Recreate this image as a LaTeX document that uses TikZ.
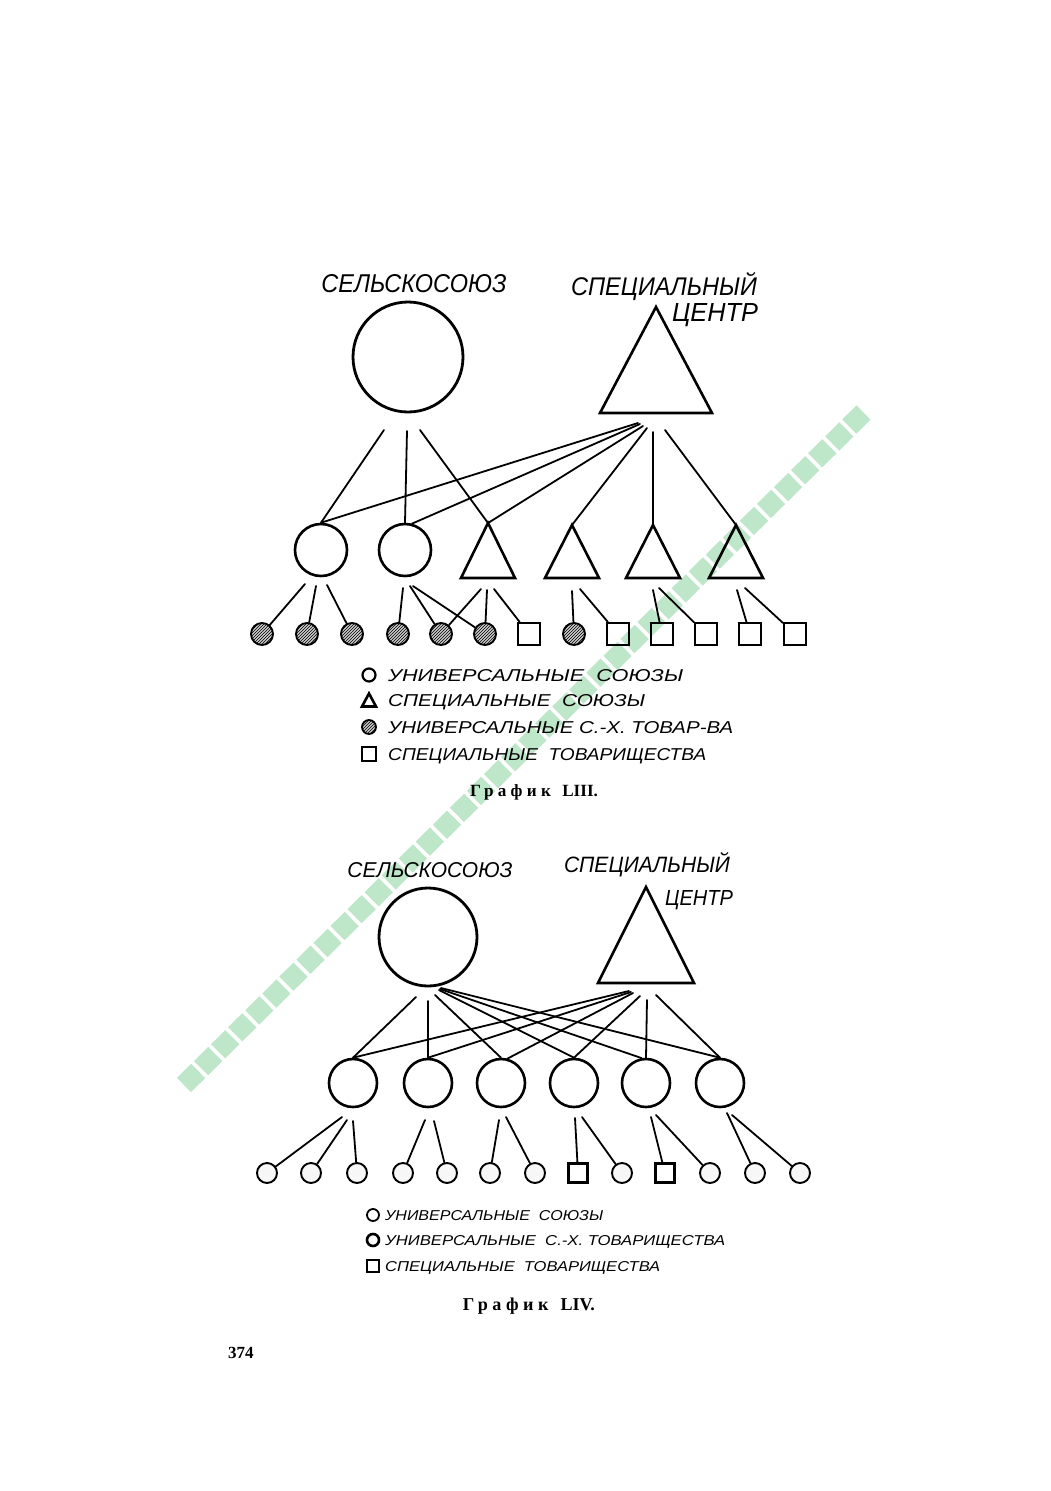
\documentclass[tikz,border=0pt]{standalone}
\usepackage{fontspec}
\usepackage{graphicx}
\usetikzlibrary{patterns}
\newfontfamily\draftfont{Liberation Sans}
\newfontfamily\capfont[LetterSpace=25]{Liberation Serif}
\newfontfamily\numfont{Liberation Serif}
\newcommand\dlab[3]{\resizebox{#1}{#2}{\draftfont\itshape #3}}
\definecolor{wmgreen}{RGB}{190,230,200}
\begin{document}
\begin{tikzpicture}[x=1pt,y=-1pt,
  conn/.style={line width=1.8pt, line cap=round},
  bigc/.style={circle, draw, line width=2.8pt, inner sep=0pt},
  midc/.style={circle, draw, line width=2.6pt, inner sep=0pt},
  tri/.style={inner sep=0pt, outer sep=0pt,
    append after command={\pgfextra{\draw[line width=2.6pt, line join=miter]
      (\tikzlastnode.south west) -- (\tikzlastnode.north) -- (\tikzlastnode.south east) -- cycle;}}},
  hatc/.style={circle, draw, line width=1.9pt, inner sep=0pt, minimum size=22pt,
    preaction={fill=gray!40}, pattern=north east lines},
  sq/.style={rectangle, draw, line width=2.1pt, inner sep=0pt, minimum size=22pt},
  uc/.style={circle, draw, line width=1.9pt, inner sep=0pt, minimum size=20pt, fill=gray!6},
  sq2/.style={rectangle, draw, line width=2.1pt, inner sep=0pt, minimum size=19pt},
  legtxt/.style={anchor=base west, inner sep=0pt},
  caption/.style={anchor=base, inner sep=0pt},
  wm/.style={draw=wmgreen, line width=20pt, dash pattern=on 20pt off 4pt}
]
\useasboundingbox[fill=white] (0,0) rectangle (1051,1491);

% watermark
\coordinate (wmA) at (184,1085);
\coordinate (wmB) at (866,410);
\draw[wm] (wmA) -- (wmB);

% ================= Diagram LIII =================
\node[anchor=base] (L1a) at (414,292) {\dlab{185pt}{18pt}{СЕЛЬСКОСОЮЗ}};
\node[anchor=base] (L1b) at (664,295) {\dlab{186pt}{23pt}{СПЕЦИАЛЬНЫЙ}};
\node[anchor=base] (L1c) at (715,321) {\dlab{86pt}{18pt}{ЦЕНТР}};

\node[bigc, minimum size=110pt] (S1) at (408,357) {};
\node[tri, minimum width=112pt, minimum height=106pt] (C1) at (656,360) {};

\node[midc, minimum size=52pt] (m11) at (321,550) {};
\node[midc, minimum size=52pt] (m12) at (405,550) {};
\node[tri, minimum width=54pt, minimum height=55pt] (m13) at (488,550.5) {};
\node[tri, minimum width=54pt, minimum height=53pt] (m14) at (572,551.5) {};
\node[tri, minimum width=54pt, minimum height=53pt] (m15) at (653,551.5) {};
\node[tri, minimum width=54pt, minimum height=53pt] (m16) at (736,551.5) {};

\node[hatc] (a1) at (262,634) {};
\node[hatc] (a2) at (307,634) {};
\node[hatc] (a3) at (352,634) {};
\node[hatc] (a4) at (398,634) {};
\node[hatc] (a5) at (441,634) {};
\node[hatc] (a6) at (485,634) {};
\node[sq]   (a7) at (529,634) {};
\node[hatc] (a8) at (574,634) {};
\node[sq]   (a9) at (618,634) {};
\node[sq]   (a10) at (662,634) {};
\node[sq]   (a11) at (706,634) {};
\node[sq]   (a12) at (750,634) {};
\node[sq]   (a13) at (795,634) {};

% connectors from S1
\coordinate (s1o1) at (384,430);
\coordinate (s1o2) at (407,431);
\coordinate (s1o3) at (420,430);
\draw[conn] (s1o1) -- (m11.north);
\draw[conn] (s1o2) -- (m12.north);
\draw[conn] (s1o3) -- (m13.north);
% connectors from C1
\coordinate (c1o1) at (638,423);
\coordinate (c1o2) at (640,424);
\coordinate (c1o3) at (643,426);
\coordinate (c1o4) at (647,428);
\coordinate (c1o5) at (653,432);
\coordinate (c1o6) at (665,430);
\draw[conn] (c1o1) -- (m11.north);
\draw[conn] (c1o2) -- (m12.75);
\draw[conn] (c1o3) -- (m13.north);
\draw[conn] (c1o4) -- (m14.north);
\draw[conn] (c1o5) -- (m15.north);
\draw[conn] (c1o6) -- (m16.north);
% connectors to bottom row
\coordinate (m11o1) at (305,584);
\coordinate (m11o2) at (316,586);
\coordinate (m11o3) at (327,585);
\coordinate (m12o1) at (403,588);
\coordinate (m12o2) at (410,586);
\coordinate (m12o3) at (413,586);
\coordinate (m13o1) at (481,589);
\coordinate (m13o2) at (487,590);
\coordinate (m13o3) at (494,589);
\coordinate (m14o1) at (572,591);
\coordinate (m14o2) at (580,589);
\coordinate (m15o1) at (653,590);
\coordinate (m15o2) at (659,588);
\coordinate (m16o1) at (737,590);
\coordinate (m16o2) at (745,588);
\draw[conn] (m11o1) -- (a1);
\draw[conn] (m11o2) -- (a2);
\draw[conn] (m11o3) -- (a3);
\draw[conn] (m12o1) -- (a4);
\draw[conn] (m12o2) -- (a5);
\draw[conn] (m12o3) -- (a6);
\draw[conn] (m13o1) -- (a5);
\draw[conn] (m13o2) -- (a6);
\draw[conn] (m13o3) -- (a7);
\draw[conn] (m14o1) -- (a8);
\draw[conn] (m14o2) -- (a9);
\draw[conn] (m15o1) -- (a10);
\draw[conn] (m15o2) -- (a11);
\draw[conn] (m16o1) -- (a12);
\draw[conn] (m16o2) -- (a13);

% legend LIII
\node[circle, draw, line width=2.2pt, inner sep=0pt, minimum size=13pt] (k1) at (369,675) {};
\node[tri, minimum width=14pt, minimum height=13pt] (k2) at (369,700) {};
\node[circle, draw, line width=1.8pt, inner sep=0pt, minimum size=14pt, preaction={fill=gray!40}, pattern=north east lines] (k3) at (369,727) {};
\node[rectangle, draw, line width=2.2pt, inner sep=0pt, minimum size=14pt] (k4) at (369,754) {};
\node[legtxt] (t1) at (388,681) {\dlab{295pt}{12pt}{УНИВЕРСАЛЬНЫЕ \ СОЮЗЫ}};
\node[legtxt] (t2) at (388,706) {\dlab{257pt}{12pt}{СПЕЦИАЛЬНЫЕ \ СОЮЗЫ}};
\node[legtxt] (t3) at (388,733) {\dlab{345pt}{12pt}{УНИВЕРСАЛЬНЫЕ С.-Х. ТОВАР-ВА}};
\node[legtxt] (t4) at (388,760) {\dlab{318pt}{12pt}{СПЕЦИАЛЬНЫЕ \ ТОВАРИЩЕСТВА}};
\node[caption] (cap1) at (534,796) {\resizebox{128pt}{!}{{\capfont\bfseries График}\ \ {\numfont\bfseries LIII.}}};

% ================= Diagram LIV =================
\node[anchor=base] (L2a) at (430,877) {\dlab{165pt}{15pt}{СЕЛЬСКОСОЮЗ}};
\node[anchor=base] (L2b) at (647,872) {\dlab{166pt}{20pt}{СПЕЦИАЛЬНЫЙ}};
\node[anchor=base] (L2c) at (699,905) {\dlab{68pt}{15pt}{ЦЕНТР}};

\node[bigc, minimum size=98pt] (S2) at (428,937) {};
\node[tri, minimum width=96pt, minimum height=96pt] (C2) at (646,935) {};

\node[midc, minimum size=48pt] (m21) at (353,1083) {};
\node[midc, minimum size=48pt] (m22) at (428,1083) {};
\node[midc, minimum size=48pt] (m23) at (501,1083) {};
\node[midc, minimum size=48pt] (m24) at (574,1083) {};
\node[midc, minimum size=48pt] (m25) at (646,1083) {};
\node[midc, minimum size=48pt] (m26) at (720,1083) {};

\node[uc]  (b1) at (267,1173) {};
\node[uc]  (b2) at (311,1173) {};
\node[uc]  (b3) at (357,1173) {};
\node[uc]  (b4) at (403,1173) {};
\node[uc]  (b5) at (447,1173) {};
\node[uc]  (b6) at (490,1173) {};
\node[uc]  (b7) at (535,1173) {};
\node[sq2] (b8) at (578,1173) {};
\node[uc]  (b9) at (622,1173) {};
\node[sq2] (b10) at (665,1173) {};
\node[uc]  (b11) at (710,1173) {};
\node[uc]  (b12) at (755,1173) {};
\node[uc]  (b13) at (800,1173) {};

% connectors from S2
\coordinate (s2o1) at (416,997);
\coordinate (s2o2) at (428,1001);
\coordinate (s2o3) at (435,995);
\coordinate (s2o4) at (439,990);
\coordinate (s2o5) at (440,989);
\coordinate (s2o6) at (441,988);
\draw[conn] (s2o1) -- (m21.north);
\draw[conn] (s2o2) -- (m22.north);
\draw[conn] (s2o3) -- (m23.north);
\draw[conn] (s2o4) -- (m24.north);
\draw[conn] (s2o5) -- (m25.100);
\draw[conn] (s2o6) -- (m26.north);
% connectors from C2
\coordinate (c2o1) at (629,991);
\coordinate (c2o2) at (631,992);
\coordinate (c2o3) at (633,993);
\coordinate (c2o4) at (640,996);
\coordinate (c2o5) at (647,1000);
\coordinate (c2o6) at (656,995);
\draw[conn] (c2o1) -- (m21.north);
\draw[conn] (c2o2) -- (m22.north);
\draw[conn] (c2o3) -- (m23.75);
\draw[conn] (c2o4) -- (m24.north);
\draw[conn] (c2o5) -- (m25.north);
\draw[conn] (c2o6) -- (m26.north);
% connectors to bottom row
\coordinate (m21o1) at (342,1117);
\coordinate (m21o2) at (347,1120);
\coordinate (m21o3) at (353,1121);
\coordinate (m22o1) at (425,1120);
\coordinate (m22o2) at (434,1121);
\coordinate (m23o1) at (499,1120);
\coordinate (m23o2) at (506,1117);
\coordinate (m24o1) at (575,1118);
\coordinate (m24o2) at (582,1117);
\coordinate (m25o1) at (651,1117);
\coordinate (m25o2) at (656,1115);
\coordinate (m26o1) at (727,1113);
\coordinate (m26o2) at (732,1115);
\draw[conn] (m21o1) -- (b1);
\draw[conn] (m21o2) -- (b2);
\draw[conn] (m21o3) -- (b3);
\draw[conn] (m22o1) -- (b4);
\draw[conn] (m22o2) -- (b5);
\draw[conn] (m23o1) -- (b6);
\draw[conn] (m23o2) -- (b7);
\draw[conn] (m24o1) -- (b8);
\draw[conn] (m24o2) -- (b9);
\draw[conn] (m25o1) -- (b10);
\draw[conn] (m25o2) -- (b11);
\draw[conn] (m26o1) -- (b12);
\draw[conn] (m26o2) -- (b13);

% legend LIV
\node[circle, draw, line width=1.8pt, inner sep=0pt, minimum size=12pt] (k5) at (373,1215) {};
\node[circle, draw, line width=2.6pt, inner sep=0pt, minimum size=12pt] (k6) at (373,1240) {};
\node[rectangle, draw, line width=2.2pt, inner sep=0pt, minimum size=12pt] (k7) at (373,1266) {};
\node[legtxt] (t5) at (385,1220) {\dlab{218pt}{10pt}{УНИВЕРСАЛЬНЫЕ \ СОЮЗЫ}};
\node[legtxt] (t6) at (385,1245) {\dlab{340pt}{10pt}{УНИВЕРСАЛЬНЫЕ \ С.-Х. ТОВАРИЩЕСТВА}};
\node[legtxt] (t7) at (385,1271) {\dlab{275pt}{10pt}{СПЕЦИАЛЬНЫЕ \ ТОВАРИЩЕСТВА}};
\node[caption] (cap2) at (529,1310) {\resizebox{132pt}{!}{{\capfont\bfseries График}\ \ {\numfont\bfseries LIV.}}};

% page number
\node[anchor=base west, inner sep=0pt] (pg) at (228,1358) {\fontsize{17pt}{20pt}\selectfont\numfont\bfseries 374};
\end{tikzpicture}
\end{document}
